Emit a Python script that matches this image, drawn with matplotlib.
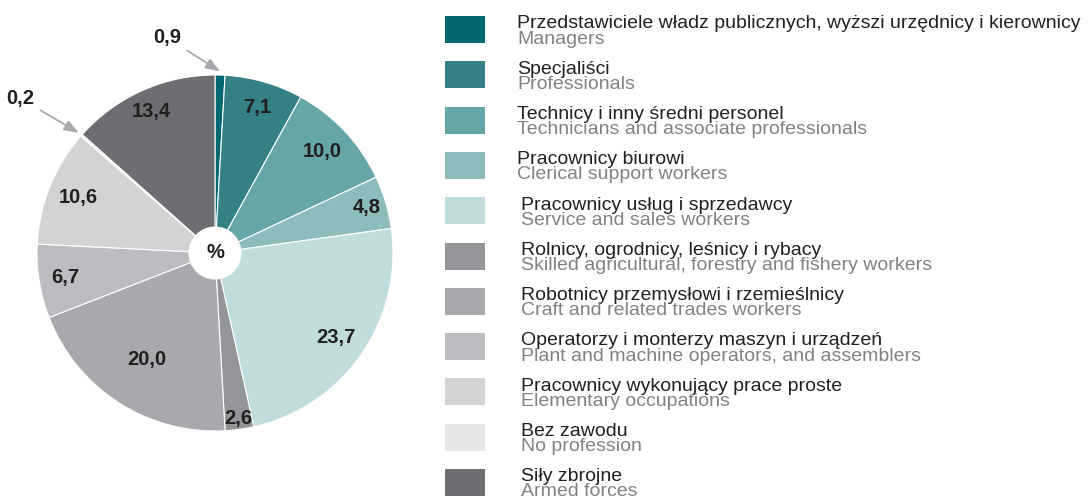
import matplotlib.pyplot as plt
from matplotlib.patches import Rectangle, Circle
import numpy as np

# data
labels_pl = [
    "Przedstawiciele władz publicznych, wyższi urzędnicy i kierownicy",
    "Specjaliści",
    "Technicy i inny średni personel",
    "Pracownicy biurowi",
    "Pracownicy usług i sprzedawcy",
    "Rolnicy, ogrodnicy, leśnicy i rybacy",
    "Robotnicy przemysłowi i rzemieślnicy",
    "Operatorzy i monterzy maszyn i urządzeń",
    "Pracownicy wykonujący prace proste",
    "Bez zawodu",
    "Siły zbrojne",
]
labels_en = [
    "Managers",
    "Professionals",
    "Technicians and associate professionals",
    "Clerical support workers",
    "Service and sales workers",
    "Skilled agricultural, forestry and fishery workers",
    "Craft and related trades workers",
    "Plant and machine operators, and assemblers",
    "Elementary occupations",
    "No profession",
    "Armed forces",
]
shares = [0.9, 7.1, 10.0, 4.8, 23.7, 2.6, 20.0, 6.7, 10.6, 0.2, 13.4]
colors = ["#006870", "#338085", "#66a6a6", "#8dbcbd", "#c0dcdf", "#939598",
          "#a7a9ac", "#bcbdc0", "#d1d3d4", "#e6e7e8", "#6d6e71"]

# label radius inside wedges (None = outside with arrow)
label_r = [None, 0.85, 0.83, 0.89, 0.83, 0.94, 0.71, 0.85, 0.83, None, 0.87]
outside_xy = {0: (-0.27, 1.21), 9: (-1.095, 0.87)}

plt.rcParams['font.family'] = ['Liberation Sans', 'DejaVu Sans']

W, H = 1088, 499
fig = plt.figure(figsize=(W / 100, H / 100), dpi=100)

# legend drawn in pixel coords
lax = fig.add_axes([0, 0, 1, 1])
lax.set_xlim(0, W)
lax.set_ylim(H, 0)
lax.axis('off')
lax.patch.set_visible(False)
for i, (pl, en, c) in enumerate(zip(labels_pl, labels_en, colors)):
    top = 16 + 45.3 * i
    lax.add_patch(Rectangle((445, top), 40, 27, facecolor=c, edgecolor='none'))
    tx = 517 if i < 4 else 521
    lax.text(tx, top + 12.3, pl, fontsize=14, color='#231f20', va='baseline')
    lax.text(tx, top + 27.5, en, fontsize=14, color='#808285', va='baseline')

# pie
cx, cy, R = 215, 253, 178
ax = fig.add_axes([(cx - R) / W, (H - cy - R) / H, 2 * R / W, 2 * R / H])
wedges, _ = ax.pie(shares, colors=colors, startangle=90, counterclock=False,
                   wedgeprops=dict(edgecolor='white', linewidth=0.8))
ax.set_xlim(-1, 1)
ax.set_ylim(-1, 1)
ax.set_aspect('equal')

for i, (w, v) in enumerate(zip(wedges, shares)):
    txt = f"{v:.1f}".replace('.', ',')
    mid = np.deg2rad((w.theta1 + w.theta2) / 2)
    if label_r[i] is not None:
        r = label_r[i]
        ax.text(r * np.cos(mid), r * np.sin(mid), txt, ha='center', va='center',
                fontsize=14.5, fontweight='bold', color='#231f20')
    else:
        ax.annotate(txt, xy=(1.02 * np.cos(mid), 1.02 * np.sin(mid)),
                    xytext=outside_xy[i], ha='center', va='center',
                    fontsize=14.5, fontweight='bold', color='#231f20',
                    annotation_clip=False,
                    arrowprops=dict(arrowstyle='-|>,head_length=0.6,head_width=0.22',
                                    color='#a7a9ac', lw=1.3, shrinkA=3, shrinkB=0))

ax.add_patch(Circle((0, 0), 0.149, facecolor='white', edgecolor='none', zorder=5))
ax.text(0, 0, '%', ha='center', va='center', fontsize=14.5, fontweight='bold',
        color='#231f20', zorder=6)

fig.savefig('out.png', dpi=100)
